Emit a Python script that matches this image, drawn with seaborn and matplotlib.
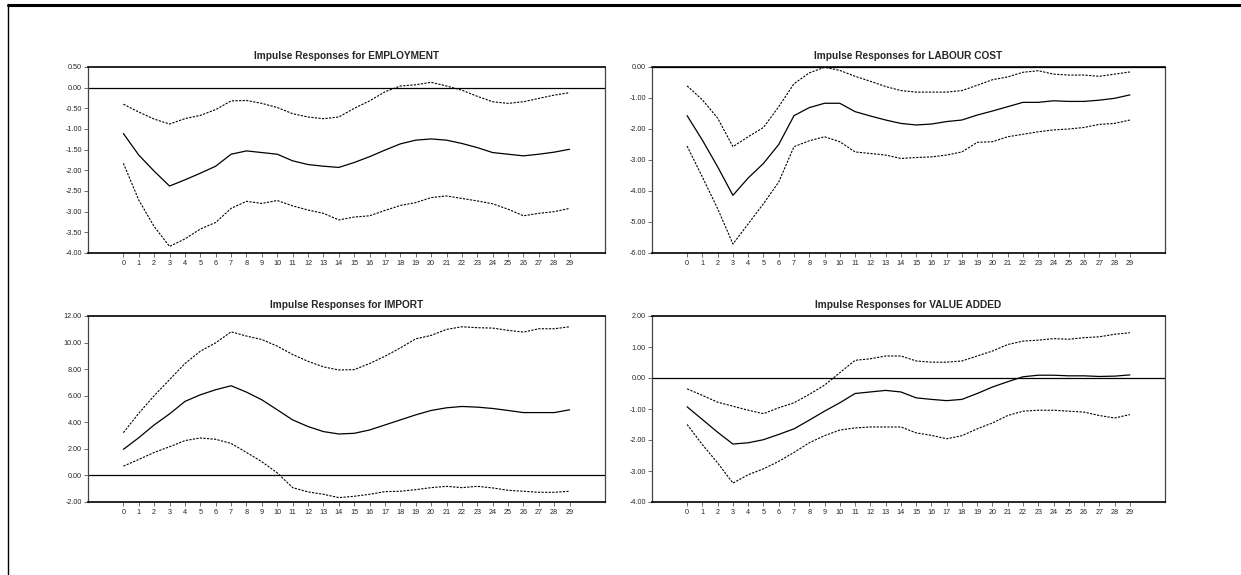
import numpy as np
import pandas as pd
import matplotlib
matplotlib.use("Agg")
import matplotlib.pyplot as plt
from matplotlib import font_manager
from matplotlib.lines import Line2D
import seaborn as sns

periods = list(range(30))

titles = ["Impulse Responses for EMPLOYMENT", "Impulse Responses for LABOUR COST",
          "Impulse Responses for IMPORT", "Impulse Responses for VALUE ADDED"]

emp_mid = [-1.11, -1.63, -2.02, -2.38, -2.23, -2.07, -1.90, -1.61, -1.53, -1.57,
           -1.61, -1.77, -1.86, -1.90, -1.93, -1.81, -1.67, -1.51, -1.36, -1.27,
           -1.24, -1.27, -1.35, -1.45, -1.57, -1.61, -1.65, -1.61, -1.56, -1.49]
emp_up = [-0.40, -0.59, -0.76, -0.88, -0.75, -0.67, -0.53, -0.32, -0.31, -0.38,
          -0.48, -0.63, -0.71, -0.75, -0.71, -0.50, -0.32, -0.10, 0.04, 0.07,
          0.13, 0.04, -0.06, -0.21, -0.34, -0.38, -0.34, -0.26, -0.18, -0.12]
emp_lo = [-1.83, -2.72, -3.36, -3.84, -3.66, -3.42, -3.26, -2.92, -2.75, -2.80,
          -2.73, -2.86, -2.96, -3.04, -3.20, -3.13, -3.10, -2.97, -2.85, -2.78,
          -2.66, -2.62, -2.68, -2.74, -2.81, -2.94, -3.10, -3.04, -3.00, -2.92]

lab_mid = [-1.57, -2.36, -3.22, -4.14, -3.58, -3.11, -2.50, -1.57, -1.31, -1.17,
           -1.17, -1.44, -1.58, -1.71, -1.82, -1.87, -1.84, -1.76, -1.71, -1.55,
           -1.42, -1.28, -1.14, -1.14, -1.09, -1.11, -1.11, -1.07, -1.01, -0.90]
lab_up = [-0.61, -1.06, -1.65, -2.57, -2.25, -1.95, -1.28, -0.54, -0.19, -0.01,
          -0.11, -0.30, -0.46, -0.63, -0.76, -0.81, -0.81, -0.81, -0.76, -0.59,
          -0.41, -0.32, -0.17, -0.12, -0.23, -0.26, -0.26, -0.30, -0.23, -0.16]
lab_lo = [-2.55, -3.55, -4.57, -5.71, -5.06, -4.41, -3.71, -2.57, -2.38, -2.25,
          -2.41, -2.74, -2.79, -2.84, -2.95, -2.92, -2.90, -2.84, -2.74, -2.43,
          -2.41, -2.25, -2.17, -2.09, -2.03, -2.00, -1.95, -1.85, -1.82, -1.71]

imp_mid = [1.96, 2.84, 3.80, 4.63, 5.57, 6.07, 6.45, 6.75, 6.27, 5.69,
           4.94, 4.18, 3.68, 3.30, 3.12, 3.17, 3.42, 3.80, 4.18, 4.56,
           4.89, 5.09, 5.19, 5.14, 5.04, 4.89, 4.73, 4.73, 4.73, 4.94]
imp_up = [3.22, 4.68, 6.00, 7.21, 8.42, 9.35, 9.98, 10.81, 10.49, 10.23,
          9.73, 9.10, 8.59, 8.17, 7.94, 7.96, 8.42, 8.97, 9.60, 10.28,
          10.54, 10.99, 11.19, 11.12, 11.09, 10.92, 10.79, 11.04, 11.04, 11.19]
imp_lo = [0.70, 1.20, 1.73, 2.16, 2.62, 2.82, 2.72, 2.41, 1.73, 1.03,
          0.19, -0.92, -1.24, -1.42, -1.67, -1.57, -1.42, -1.22, -1.19, -1.07,
          -0.92, -0.82, -0.92, -0.82, -0.94, -1.12, -1.19, -1.27, -1.27, -1.19]

va_mid = [-0.93, -1.34, -1.75, -2.13, -2.09, -1.99, -1.82, -1.64, -1.36, -1.07,
          -0.80, -0.50, -0.45, -0.40, -0.45, -0.64, -0.69, -0.73, -0.69, -0.50,
          -0.29, -0.12, 0.04, 0.09, 0.09, 0.07, 0.07, 0.05, 0.06, 0.10]
va_up = [-0.35, -0.56, -0.78, -0.91, -1.04, -1.15, -0.96, -0.80, -0.53, -0.23,
         0.17, 0.57, 0.62, 0.71, 0.71, 0.55, 0.51, 0.51, 0.55, 0.71,
         0.87, 1.08, 1.19, 1.22, 1.27, 1.25, 1.30, 1.33, 1.41, 1.46]
va_lo = [-1.50, -2.15, -2.74, -3.39, -3.12, -2.93, -2.69, -2.40, -2.09, -1.86,
         -1.68, -1.61, -1.58, -1.58, -1.58, -1.77, -1.85, -1.96, -1.86, -1.64,
         -1.45, -1.21, -1.07, -1.04, -1.04, -1.07, -1.10, -1.21, -1.29, -1.18]

ylims = [(-4.0, 0.5), (-6.0, 0.0), (-2.0, 12.0), (-4.0, 2.0)]
ysteps = [0.5, 1.0, 2.0, 1.0]

series = [(emp_mid, emp_up, emp_lo), (lab_mid, lab_up, lab_lo),
          (imp_mid, imp_up, imp_lo), (va_mid, va_up, va_lo)]

sns.set_theme(style="white")
names = {f.name for f in font_manager.fontManager.ttflist}
fam = "Liberation Sans Narrow" if "Liberation Sans Narrow" in names else "Liberation Sans"
plt.rcParams["font.family"] = [fam, "DejaVu Sans"]

W, H = 1241, 575
fig = plt.figure(figsize=(W / 100, H / 100), dpi=100)

# figure border (top and left)
fig.add_artist(Line2D([8 / W, 8 / W], [0, 1 - 4 / H], color="black", lw=1.0, transform=fig.transFigure))
fig.add_artist(Line2D([8 / W, 1], [1 - 4.5 / H, 1 - 4.5 / H], color="black", lw=2.2, transform=fig.transFigure))

boxes = [(88, 67, 605, 253), (652, 67, 1165, 253), (88, 316, 605, 502), (652, 316, 1165, 502)]

for i, (box, title, (mid, up, lo)) in enumerate(zip(boxes, titles, series)):
    l, t, r, b = box
    ax = fig.add_axes([l / W, 1 - b / H, (r - l) / W, (b - t) / H])
    df = pd.DataFrame({"period": periods, "mid": mid, "up": up, "lo": lo})
    ax.axhline(0, color="black", lw=0.9, zorder=1)
    sns.lineplot(data=df, x="period", y="mid", ax=ax, color="black", lw=0.9)
    sns.lineplot(data=df, x="period", y="up", ax=ax, color="black", lw=0.8, linestyle=(0, (2.0, 1.2)))
    sns.lineplot(data=df, x="period", y="lo", ax=ax, color="black", lw=0.8, linestyle=(0, (2.0, 1.2)))
    ax.set_xlim(-2.3, 31.3)
    ax.set_ylim(*ylims[i])
    ax.set_xticks(periods)
    ax.set_xticklabels([str(p) for p in periods])
    yt = np.arange(ylims[i][0], ylims[i][1] + 1e-9, ysteps[i])
    ax.set_yticks(yt)
    ax.set_yticklabels([f"{v:.2f}" for v in yt])
    ax.set_xlabel("")
    ax.set_ylabel("")
    ax.tick_params(axis="both", labelsize=5.2, length=3, width=0.6, color="#555555",
                   direction="out", pad=1.5, bottom=True, left=True)
    ax.tick_params(axis="x", pad=2.0)
    for side in ["left", "right"]:
        ax.spines[side].set_color("#444444")
        ax.spines[side].set_linewidth(0.9)
    for side in ["top", "bottom"]:
        ax.spines[side].set_color("black")
        ax.spines[side].set_linewidth(1.2)
    ax.set_title(title, fontsize=7.3, fontweight="bold", pad=6)
    ax.grid(False)

fig.savefig("out.png", dpi=100, facecolor="white")
